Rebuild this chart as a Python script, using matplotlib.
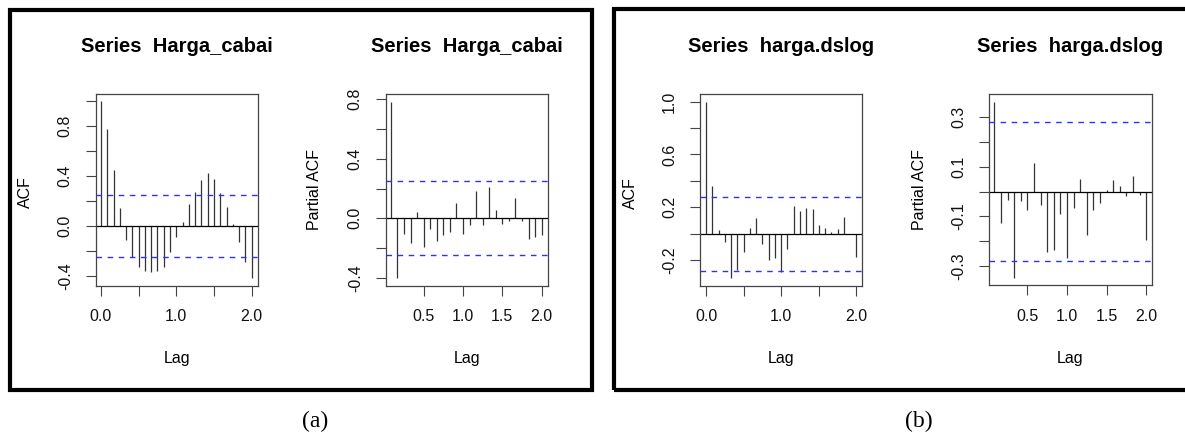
import matplotlib
matplotlib.use("Agg")
import matplotlib.pyplot as plt
import numpy as np
from matplotlib.patches import Rectangle

plt.rcParams['font.family'] = ['Liberation Sans', 'DejaVu Sans']

# lags (monthly series, frequency 12)
acf_lag_index = np.arange(0, 25)
pacf_lag_index = np.arange(1, 25)
freq = 12

# (a) Harga_cabai
cabai_acf = [1.000, 0.779, 0.450, 0.149, -0.109, -0.243, -0.323, -0.355, -0.363,
             -0.357, -0.323, -0.208, -0.085, 0.032, 0.181, 0.275, 0.368, 0.429,
             0.379, 0.269, 0.152, 0.019, -0.128, -0.283, -0.416]
cabai_pacf = [0.782, -0.398, -0.107, -0.163, 0.042, -0.194, -0.074, -0.150,
              -0.114, -0.094, 0.103, -0.105, -0.042, 0.185, -0.045, 0.210, 0.054,
              -0.036, -0.016, 0.136, -0.016, -0.141, -0.123, -0.114]
cabai_ci = 0.248

# (b) harga.dslog
dslog_acf = [1.000, 0.364, 0.028, -0.066, -0.338, -0.275, -0.136, 0.040, 0.119,
             -0.076, -0.197, -0.182, -0.288, -0.116, 0.207, 0.172, 0.197, 0.187,
             0.063, 0.045, 0.015, 0.035, 0.124, -0.004, -0.177]
dslog_pacf = [0.362, -0.125, -0.034, -0.346, -0.036, -0.074, 0.115, -0.052,
              -0.244, -0.234, -0.090, -0.266, -0.067, 0.051, -0.173, -0.074,
              -0.044, 0.005, 0.046, 0.021, -0.019, 0.063, -0.012, -0.193]
dslog_ci = 0.281

W, H = 1185, 441
fig = plt.figure(figsize=(W / 100, H / 100), dpi=100)


def px_axes(l, r, t, b):
    return fig.add_axes([l / W, 1 - b / H, (r - l) / W, (b - t) / H])


def draw_panel(box, lags, vals, ci, xlim, ylim, yticks, ylabels, xticks, xlabels,
               title):
    l, r, t, b = box
    ax = px_axes(l, r, t, b)
    ax.vlines(lags, 0, vals, color='#333333', lw=0.9)
    ax.axhline(0, color='black', lw=0.9)
    ax.axhline(ci, color='#2f2fff', lw=1.0, ls=(0, (4, 4)))
    ax.axhline(-ci, color='#2f2fff', lw=1.0, ls=(0, (4, 4)))
    ax.set_xlim(*xlim)
    ax.set_ylim(*ylim)
    ax.set_yticks(yticks)
    ax.set_yticklabels(ylabels, rotation=90, va='center')
    ax.set_xticks(xticks)
    ax.set_xticklabels(xlabels)
    ax.tick_params(direction='out', length=7.5, width=0.8, color='#444444',
                   labelsize=11.5, labelcolor='#111111')
    ax.tick_params(axis='y', pad=9)
    ax.tick_params(axis='x', pad=9.5)
    for s in ax.spines.values():
        s.set_color('#444444')
        s.set_linewidth(0.9)
    cx = (l + r) / 2
    fig.text(cx / W, 1 - 47 / H, title, ha='center', va='center',
             fontsize=14.5, fontweight='bold')
    fig.text(cx / W, 1 - 358 / H, 'Lag', ha='center', va='center', fontsize=11.5)
    return ax


ax1 = draw_panel((95.7, 257.7, 94.3, 285.7), acf_lag_index / freq, cabai_acf,
                 cabai_ci, (-0.070, 2.08), (-0.475, 1.056),
                 [-0.4, -0.2, 0.0, 0.2, 0.4, 0.6, 0.8, 1.0],
                 ['-0.4', '', '0.0', '', '0.4', '', '0.8', ''],
                 [0, 0.5, 1.0, 1.5, 2.0], ['0.0', '', '1.0', '', '2.0'],
                 'Series  Harga_cabai')
fig.text(25 / W, 1 - 192 / H, 'ACF', rotation=90, ha='center', va='center',
         fontsize=11.5)

ax2 = draw_panel((385.7, 547.7, 94.3, 285.7), pacf_lag_index / freq, cabai_pacf,
                 cabai_ci, (0.018, 2.077), (-0.451, 0.831),
                 [-0.4, -0.2, 0.0, 0.2, 0.4, 0.6, 0.8],
                 ['-0.4', '', '0.0', '', '0.4', '', '0.8'],
                 [0.5, 1.0, 1.5, 2.0], ['0.5', '1.0', '1.5', '2.0'],
                 'Series  Harga_cabai')
fig.text(315 / W, 1 - 190 / H, 'Partial ACF', rotation=90, ha='center', va='center',
         fontsize=11.5)

ax3 = draw_panel((700, 862.3, 94.3, 285.7), acf_lag_index / freq, dslog_acf,
                 dslog_ci, (-0.080, 2.078), (-0.394, 1.056),
                 [-0.2, 0.0, 0.2, 0.4, 0.6, 0.8, 1.0],
                 ['-0.2', '', '0.2', '', '0.6', '', '1.0'],
                 [0, 0.5, 1.0, 1.5, 2.0], ['0.0', '', '1.0', '', '2.0'],
                 'Series  harga.dslog')
fig.text(630.5 / W, 1 - 193 / H, 'ACF', rotation=90, ha='center', va='center',
         fontsize=11.5)

ax4 = draw_panel((989, 1151.7, 94.3, 285), pacf_lag_index / freq, dslog_pacf,
                 dslog_ci, (0.016, 2.068), (-0.376, 0.392),
                 [-0.3, -0.2, -0.1, 0.0, 0.1, 0.2, 0.3],
                 ['-0.3', '', '-0.1', '', '0.1', '', '0.3'],
                 [0.5, 1.0, 1.5, 2.0], ['0.5', '1.0', '1.5', '2.0'],
                 'Series  harga.dslog')
fig.text(919 / W, 1 - 189 / H, 'Partial ACF', rotation=90, ha='center', va='center',
         fontsize=11.5)

# black frames around (a) and (b)
for (x0, y0, x1, y1) in [(10, 10, 591.5, 390), (614.5, 9, 1192, 390)]:
    fig.patches.append(Rectangle((x0 / W, 1 - y1 / H), (x1 - x0) / W, (y1 - y0) / H,
                                 transform=fig.transFigure, fill=False,
                                 edgecolor='black', lw=3.0, clip_on=False))

fig.text(315 / W, 1 - 421 / H, '(a)', ha='center', va='center', fontsize=17,
         family='Liberation Serif')
fig.text(919 / W, 1 - 421 / H, '(b)', ha='center', va='center', fontsize=17,
         family='Liberation Serif')

fig.savefig('out.png', dpi=100)
